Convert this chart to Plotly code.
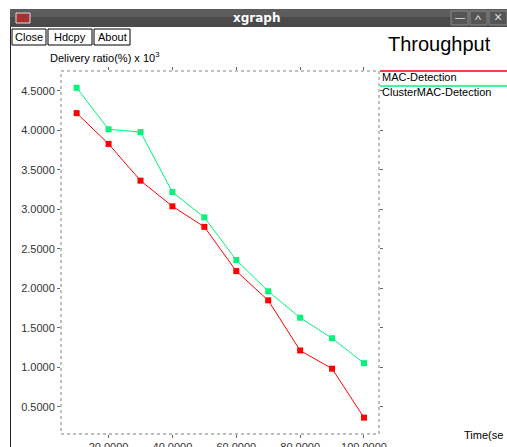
import plotly.graph_objects as go

# ---- data ----
time_s = [10, 20, 30, 40, 50, 60, 70, 80, 90, 100]
mac_detection = [4.22, 3.83, 3.365, 3.04, 2.78, 2.22, 1.85, 1.215, 0.985, 0.365]
cluster_mac_detection = [4.54, 4.015, 3.98, 3.22, 2.90, 2.36, 1.965, 1.63, 1.37, 1.055]
x_ticks = [20, 40, 60, 80, 100]
y_ticks = [0.5, 1.0, 1.5, 2.0, 2.5, 3.0, 3.5, 4.0, 4.5]
series_names = ["MAC-Detection", "ClusterMAC-Detection"]

W, H = 507, 447
L, R, T, B = 61, 379, 71, 434
FONT = "Liberation Sans, Arial, sans-serif"


def px(x):
    return (x - L) / (R - L)


def py(y):
    return (B - y) / (B - T)


def text(t, x, y, size=11, color="#000000", xanchor="center", family=FONT):
    return dict(text=t, x=px(x), y=py(y), xanchor=xanchor, yanchor="middle",
                showarrow=False, xref="paper", yref="paper",
                font=dict(color=color, size=size, family=family))


RED = "#ff0000"
GREEN = "#00f57a"

fig = go.Figure()
fig.add_trace(go.Scatter(x=time_s, y=mac_detection, mode="lines+markers",
                         line=dict(color=RED, width=1),
                         marker=dict(color=RED, size=6, symbol="square"),
                         name=series_names[0], cliponaxis=False))
fig.add_trace(go.Scatter(x=time_s, y=cluster_mac_detection, mode="lines+markers",
                         line=dict(color=GREEN, width=1),
                         marker=dict(color=GREEN, size=6, symbol="square"),
                         name=series_names[1], cliponaxis=False))

shapes = []
annotations = []

# plot frame (dotted)
shapes.append(dict(type="rect", xref="paper", yref="paper", x0=0, x1=1, y0=0, y1=1,
                   line=dict(color="#808080", width=1, dash="dot"), layer="below"))

# window title bar
shapes.append(dict(type="rect", xref="paper", yref="paper",
                   x0=px(10), x1=px(507), y0=py(27), y1=py(9),
                   fillcolor="#4a4a4a", line=dict(width=0), layer="below"))
shapes.append(dict(type="rect", xref="paper", yref="paper",
                   x0=px(10), x1=px(507), y0=py(17), y1=py(9),
                   fillcolor="#5c5c5c", line=dict(width=0), layer="below"))
# window icon
shapes.append(dict(type="rect", xref="paper", yref="paper",
                   x0=px(16), x1=px(30), y0=py(23), y1=py(13),
                   fillcolor="#a83030", line=dict(color="#dddddd", width=1), layer="below"))
# window buttons
for x0, x1 in [(451, 468), (470, 487), (489, 507)]:
    shapes.append(dict(type="rect", xref="paper", yref="paper",
                       x0=px(x0), x1=px(x1), y0=py(25), y1=py(11),
                       fillcolor="#555555", line=dict(color="#8a8a8a", width=1), layer="below"))
annotations += [
    text("—", 459.5, 17, size=10, color="#dddddd"),
    text("^", 478.5, 19, size=13, color="#dddddd"),
    text("×", 498, 17, size=14, color="#dddddd"),
    text("<b>xgraph</b>", 256, 18, size=12, color="#ffffff", family="DejaVu Sans, sans-serif"),
]
# left window border
shapes.append(dict(type="line", xref="paper", yref="paper",
                   x0=px(10.5), x1=px(10.5), y0=py(447), y1=py(27),
                   line=dict(color="#222222", width=1), layer="below"))

# buttons
for label, x0, x1 in [("Close", 12, 46), ("Hdcpy", 48, 92), ("About", 94, 130)]:
    shapes.append(dict(type="rect", xref="paper", yref="paper",
                       x0=px(x0), x1=px(x1), y0=py(45), y1=py(29),
                       fillcolor="#ffffff", line=dict(color="#000000", width=1), layer="below"))
    annotations.append(text(label, (x0 + x1) / 2, 37.5, size=11))

# title and axis labels
annotations.append(text("Throughput", 386, 44, size=20, xanchor="left"))
annotations.append(text("Delivery ratio(%) x 10<sup>3</sup>", 48, 57, size=11, xanchor="left"))
annotations.append(text("Time(se", 462, 435, size=11, xanchor="left"))

# legend
for i, (name, col) in enumerate(zip(series_names, [RED, GREEN])):
    ly = 71 + 15 * i
    shapes.append(dict(type="line", xref="paper", yref="paper",
                       x0=px(380), x1=px(507), y0=py(ly), y1=py(ly),
                       line=dict(color=col, width=1.5)))
    annotations.append(text(name, 380, ly + 6, size=11, xanchor="left"))

fig.update_layout(
    width=W, height=H,
    margin=dict(l=L, r=W - R, t=T, b=H - B, pad=0, autoexpand=False),
    paper_bgcolor="#ffffff", plot_bgcolor="#ffffff",
    showlegend=False,
    shapes=shapes, annotations=annotations,
    xaxis=dict(range=[5.1, 104.7], tickvals=x_ticks, automargin=False,
               ticktext=[f"{v:.4f}" for v in x_ticks],
               ticks="outside", ticklen=3, tickcolor="#666666", mirror="ticks",
               showgrid=False, zeroline=False, showline=False,
               tickfont=dict(size=11, color="#333333", family=FONT)),
    yaxis=dict(range=[0.158, 4.753], tickvals=y_ticks, automargin=False,
               ticktext=[f"{v:.4f}" for v in y_ticks],
               ticks="outside", ticklen=3, tickcolor="#666666", mirror="ticks",
               showgrid=False, zeroline=False, showline=False,
               tickfont=dict(size=11, color="#333333", family=FONT)),
)

fig.write_html("out.html", config={"displayModeBar": False},
               post_script="document.body.style.margin='0';document.body.style.overflow='hidden';")
